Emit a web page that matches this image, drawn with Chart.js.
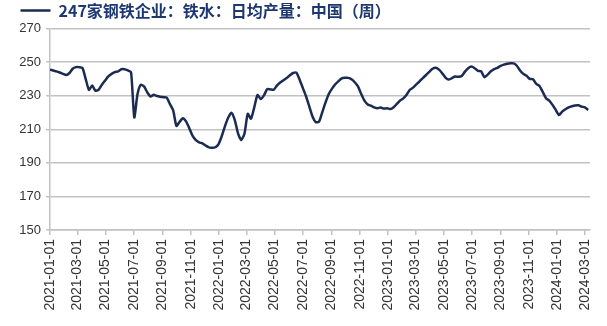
<!DOCTYPE html>
<html>
<head>
<meta charset="utf-8">
<script src="https://cdn.jsdelivr.net/npm/chart.js@4.4.0/dist/chart.umd.min.js"></script>
<style>
    html, body { margin: 0; background: #fff; }
    #wrap { width: 607px; height: 326px; }
</style>
</head>
<body>
<div id="wrap"><canvas id="grafico"></canvas></div>
<script>
const serieNombre = "247家钢铁企业：铁水：日均产量：中国（周）";
const fechaInicio = "2021-01-01";
const tickLabels = ["2021-01-01", "2021-03-01", "2021-05-01", "2021-07-01", "2021-09-01", "2021-11-01",
    "2022-01-01", "2022-03-01", "2022-05-01", "2022-07-01", "2022-09-01", "2022-11-01",
    "2023-01-01", "2023-03-01", "2023-05-01", "2023-07-01", "2023-09-01", "2023-11-01",
    "2024-01-01", "2024-03-01"];
const yTicks = [150, 170, 190, 210, 230, 250, 270];

// weekly values, one per week from 2021-01-01
const tieHierro = [
    245.5, 245, 244.5, 243.8, 243, 242.3, 243.5, 246, 247, 247,
    246.5, 240, 233.5, 236, 233, 233.5, 236.5, 239, 241.5, 243,
    244, 244.5, 245.7, 245.7, 245, 244, 217, 231, 236.5, 235.5,
    232, 229.5, 230.5, 229.8, 229.4, 229.1, 228.8, 225, 221.2, 212,
    214.5, 216.5, 214.5, 210.5, 206, 203.5, 202.2, 201.6, 200.3, 199.2,
    199, 199.3, 201.2, 206, 212, 217, 219.8, 215.5, 207.5, 203.5,
    207.5, 219.2, 216.3, 223, 230.4, 228, 230.2, 233.9, 233.7, 233.5,
    236, 237.8, 239.2, 240.5, 242.2, 243.5, 243.7, 239.5, 234.5, 229.5,
    223.5, 217.5, 214.2, 214.5, 220.2, 226, 231, 234.2, 236.8, 238.7,
    240.3, 240.6, 240.6, 239.8, 238, 235.5, 231, 227, 224.8, 224,
    223, 222.5, 223, 222.3, 222.5, 222, 223.1, 225.1, 227.1, 228.4,
    230.5, 233.5, 234.8, 236.7, 238.5, 240.5, 242.3, 244.2, 246, 246.6,
    245.5, 243.3, 240.8, 239.6, 240.5, 241.4, 241.2, 241.7, 244.3, 246.3,
    247.3, 246.3, 244.8, 244.5, 241, 242.5, 244.5, 245.8, 246.6, 247.7,
    248.5, 249, 249.3, 249.2, 247.8, 245, 243, 241.8, 240, 239.8,
    237, 235.8, 232.2, 228.5, 227, 224.5, 221.5, 218.5, 220.5, 221.9,
    223, 223.7, 224.2, 224.3, 223.5, 223, 221.5
];

function dias(fecha) {
    const a = fecha.split("-").map(Number);
    const b = fechaInicio.split("-").map(Number);
    return (Date.UTC(a[0], a[1] - 1, a[2]) - Date.UTC(b[0], b[1] - 1, b[2])) / 86400000;
}

const puntos = tieHierro.map((v, i) => ({ x: i * 7, y: v }));
const gris = "#c2c2c2";

new Chart("grafico", {
    type: "line",
    data: {
        datasets: [{
            label: serieNombre,
            data: puntos,
            borderColor: "#1b2b52",
            backgroundColor: "#1b2b52",
            borderWidth: 2.5,
            pointRadius: 0,
            tension: 0.2,
            fill: false
        }]
    },
    options: {
        responsive: true,
        maintainAspectRatio: false,
        animation: false,
        layout: { padding: { left: 18, right: 17, top: 0, bottom: 0 } },
        plugins: {
            tooltip: { enabled: false },
            legend: {
                display: true,
                position: "top",
                align: "start",
                labels: {
                    usePointStyle: true,
                    pointStyle: "line",
                    pointStyleWidth: 30,
                    boxHeight: 10,
                    padding: 2.5,
                    color: "#1d3870",
                    font: { family: "'Noto Sans CJK SC'", size: 16, weight: "bold" }
                }
            }
        },
        scales: {
            x: {
                type: "linear",
                min: 0,
                max: 1166,
                afterFit: (s) => { s.height = 96; },
                afterBuildTicks: (s) => { s.ticks = tickLabels.map(t => ({ value: dias(t) })); },
                grid: { display: true, drawOnChartArea: false, drawTicks: true, tickLength: 5, color: gris, lineWidth: 1.5 },
                border: { display: true, color: gris, width: 1.5 },
                ticks: {
                    autoSkip: false,
                    minRotation: 90,
                    maxRotation: 90,
                    padding: 4,
                    color: "#333",
                    font: { family: "'Liberation Sans'", size: 14 },
                    callback: (v, i) => tickLabels[i]
                }
            },
            y: {
                min: 150,
                max: 270,
                afterFit: (s) => { s.width = 32; },
                afterBuildTicks: (s) => { s.ticks = yTicks.map(v => ({ value: v })); },
                grid: { color: gris, lineWidth: 1.5, tickLength: 4 },
                border: { display: true, color: gris, width: 1.5 },
                ticks: {
                    padding: 5,
                    color: "#333",
                    font: { family: "'Liberation Sans'", size: 13 }
                }
            }
        }
    }
});
</script>
</body>
</html>
